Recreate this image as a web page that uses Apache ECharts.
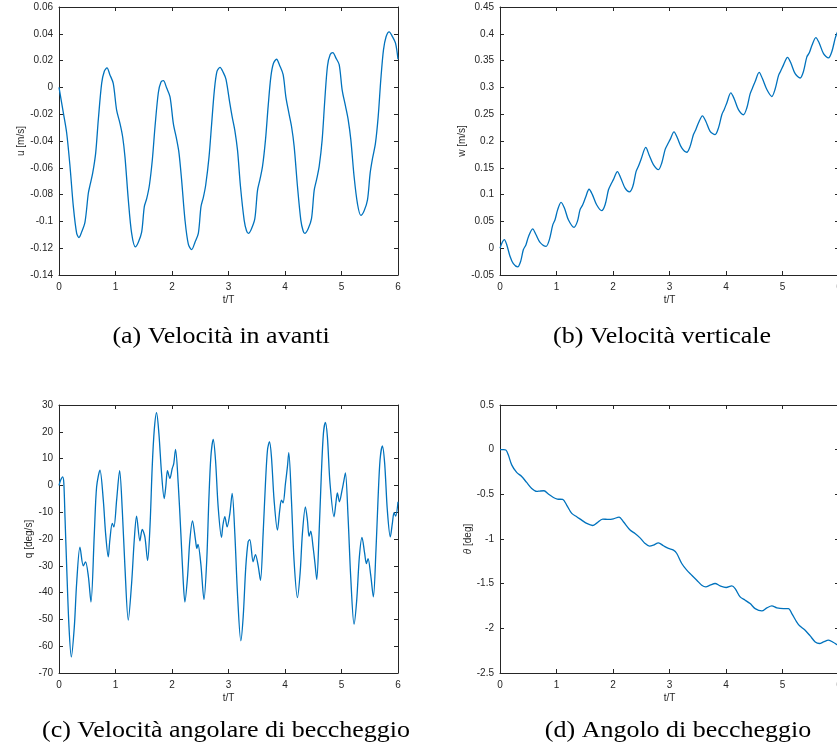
<!DOCTYPE html>
<html><head><meta charset="utf-8">
<script src="https://cdn.jsdelivr.net/npm/echarts@6/dist/echarts.min.js"></script>
<style>html,body{margin:0;padding:0;background:#fff;}#c{width:837px;height:753px;}</style>
</head><body><div id="c"></div>
<script>
// (a) forward velocity u [m/s] vs t/T
const uData = [[0,0],[0.077,-0.019],[0.136,-0.034],[0.195,-0.059],[0.254,-0.089],[0.313,-0.109],[0.354,-0.112],[0.4,-0.108],[0.46,-0.1005],[0.519,-0.079],[0.549,-0.073],[0.596,-0.064],[0.649,-0.049],[0.696,-0.024],[0.755,0.003],[0.802,0.012],[0.85,0.0145],[0.9,0.0095],[0.96,0.003],[1.02,-0.017],[1.08,-0.027],[1.127,-0.037],[1.168,-0.052],[1.227,-0.084],[1.286,-0.109],[1.351,-0.119],[1.404,-0.1155],[1.463,-0.108],[1.51,-0.089],[1.552,-0.083],[1.6,-0.073],[1.652,-0.054],[1.7,-0.029],[1.758,-0.004],[1.805,0.004],[1.847,0.005],[1.906,-0.0005],[1.965,-0.007],[2.024,-0.027],[2.083,-0.039],[2.124,-0.049],[2.17,-0.069],[2.23,-0.099],[2.289,-0.117],[2.348,-0.121],[2.407,-0.1155],[2.466,-0.109],[2.513,-0.089],[2.555,-0.082],[2.596,-0.073],[2.655,-0.052],[2.702,-0.027],[2.75,-0.002],[2.796,0.012],[2.85,0.015],[2.909,0.011],[2.956,0.006],[3.024,-0.012],[3.065,-0.022],[3.112,-0.032],[3.16,-0.047],[3.212,-0.074],[3.277,-0.099],[3.319,-0.107],[3.354,-0.109],[3.407,-0.1055],[3.466,-0.098],[3.513,-0.077],[3.555,-0.069],[3.602,-0.059],[3.655,-0.039],[3.702,-0.014],[3.75,0.008],[3.796,0.018],[3.85,0.021],[3.909,0.016],[3.967,0.0095],[4.015,-0.007],[4.068,-0.019],[4.115,-0.029],[4.162,-0.044],[4.221,-0.074],[4.28,-0.099],[4.32,-0.107],[4.35,-0.109],[4.41,-0.1055],[4.469,-0.098],[4.516,-0.077],[4.558,-0.069],[4.605,-0.059],[4.658,-0.039],[4.705,-0.009],[4.752,0.016],[4.8,0.0245],[4.847,0.026],[4.9,0.022],[4.959,0.017],[5.012,-0.002],[5.071,-0.014],[5.118,-0.024],[5.165,-0.039],[5.224,-0.067],[5.283,-0.087],[5.342,-0.0955],[5.401,-0.092],[5.46,-0.084],[5.507,-0.064],[5.549,-0.053],[5.6,-0.042],[5.649,-0.022],[5.696,0.006],[5.743,0.028],[5.79,0.038],[5.844,0.0415],[5.9,0.038],[5.956,0.033],[6.0,0.021]];

// (b) vertical velocity w [m/s]
const wData = [[0,0],[0.04,0.011],[0.077,0.016],[0.118,0.007],[0.177,-0.015],[0.236,-0.029],[0.313,-0.035],[0.366,-0.0245],[0.413,-0.003],[0.46,0.0066],[0.502,0.021],[0.578,0.036],[0.638,0.025],[0.708,0.011],[0.815,0.0035],[0.874,0.016],[0.933,0.043],[0.974,0.053],[1.021,0.072],[1.08,0.0855],[1.14,0.075],[1.21,0.053],[1.31,0.039],[1.37,0.05],[1.417,0.072],[1.464,0.081],[1.517,0.0955],[1.576,0.11],[1.635,0.1],[1.71,0.081],[1.8,0.07],[1.86,0.081],[1.92,0.109],[1.96,0.1185],[2.007,0.128],[2.078,0.143],[2.137,0.131],[2.214,0.112],[2.29,0.105],[2.35,0.115],[2.408,0.143],[2.45,0.153],[2.497,0.166],[2.58,0.188],[2.639,0.174],[2.715,0.156],[2.804,0.1465],[2.863,0.159],[2.922,0.184],[2.963,0.193],[3.01,0.2025],[3.08,0.217],[3.14,0.2055],[3.217,0.187],[3.306,0.179],[3.365,0.19],[3.424,0.212],[3.465,0.221],[3.512,0.2336],[3.583,0.247],[3.642,0.237],[3.719,0.218],[3.807,0.212],[3.867,0.2245],[3.926,0.249],[3.967,0.2585],[4.014,0.271],[4.085,0.2896],[4.144,0.279],[4.22,0.2585],[4.309,0.249],[4.368,0.2615],[4.427,0.288],[4.469,0.299],[4.516,0.311],[4.587,0.328],[4.646,0.316],[4.723,0.296],[4.811,0.283],[4.87,0.297],[4.929,0.322],[4.97,0.331],[5.018,0.342],[5.089,0.356],[5.148,0.3455],[5.224,0.3256],[5.313,0.3175],[5.372,0.33],[5.431,0.357],[5.472,0.364],[5.52,0.378],[5.59,0.393],[5.649,0.383],[5.726,0.363],[5.815,0.355],[5.874,0.367],[5.933,0.392],[5.96,0.4],[6.0,0.41]];

// (c) pitch rate q [deg/s]
const qData = [[0,0],[0.03,2.0],[0.065,3.2],[0.085,1.0],[0.106,-11.7],[0.136,-30.4],[0.177,-52.8],[0.218,-64],[0.271,-52.8],[0.312,-36.6],[0.371,-23],[0.43,-30],[0.47,-28.5],[0.52,-34],[0.566,-43.5],[0.625,-18],[0.666,-0.5],[0.725,5.7],[0.784,-5.5],[0.825,-18],[0.872,-26.7],[0.9,-20.4],[0.943,-14.2],[0.972,-15.5],[1.02,-5.5],[1.073,5.5],[1.12,-9.2],[1.167,-30.4],[1.226,-50.3],[1.285,-36.6],[1.332,-20.4],[1.373,-11.5],[1.432,-20.7],[1.473,-16.4],[1.52,-19.2],[1.568,-28],[1.61,-15.5],[1.65,7],[1.686,20.7],[1.727,27.1],[1.768,19.4],[1.815,4.5],[1.862,-4.9],[1.89,-0.5],[1.92,5.5],[1.962,2.6],[2.004,6.3],[2.03,8],[2.063,13.4],[2.11,0.7],[2.157,-18],[2.198,-35.4],[2.228,-43.5],[2.275,-34.1],[2.316,-20.4],[2.363,-13.2],[2.416,-20.4],[2.44,-23.5],[2.46,-22],[2.51,-29.2],[2.566,-42.6],[2.615,-27.9],[2.652,-5.5],[2.688,10.7],[2.73,17.2],[2.77,9.5],[2.817,-8],[2.876,-19.4],[2.9,-15],[2.935,-11.7],[2.976,-15.5],[3.024,-10.5],[3.065,-3],[3.112,-18],[3.159,-40.4],[3.218,-58],[3.26,-49],[3.306,-30.4],[3.348,-21],[3.377,-20.2],[3.436,-28.5],[3.477,-25.8],[3.524,-29.8],[3.566,-35.4],[3.613,-18],[3.654,0.7],[3.69,13.2],[3.725,16.3],[3.76,10.7],[3.807,-5.5],[3.866,-16.7],[3.907,-9.2],[3.937,-5.5],[3.966,-6.5],[4.008,0.7],[4.043,7],[4.067,12.2],[4.114,-5.5],[4.16,-27.9],[4.22,-41.9],[4.267,-32.9],[4.308,-18],[4.361,-8],[4.397,-13],[4.426,-19],[4.456,-17.1],[4.497,-23],[4.53,-29],[4.562,-35.1],[4.603,-18],[4.644,4.5],[4.68,19.4],[4.715,23.5],[4.75,18.2],[4.797,0.7],[4.868,-11.7],[4.9,-6.7],[4.927,-2.8],[4.963,-6.1],[5.01,-1.8],[5.04,1.5],[5.069,4.7],[5.116,-11.7],[5.163,-34.1],[5.222,-51.8],[5.269,-42.9],[5.316,-26.7],[5.363,-19.4],[5.41,-25.4],[5.44,-29.2],[5.47,-27.3],[5.517,-33.5],[5.564,-41.6],[5.61,-24.2],[5.646,-5.5],[5.682,9.5],[5.723,14.7],[5.764,8.2],[5.811,-9.2],[5.864,-19.2],[5.9,-14.2],[5.93,-10.2],[5.959,-11.5],[6.0,-6.1]];

// (d) pitch angle theta [deg]
const thetaData = [[0,0],[0.06,0],[0.106,-0.005],[0.148,-0.06],[0.207,-0.17],[0.295,-0.255],[0.384,-0.30],[0.472,-0.367],[0.561,-0.434],[0.65,-0.467],[0.708,-0.463],[0.779,-0.46],[0.856,-0.497],[0.945,-0.535],[1.015,-0.553],[1.11,-0.557],[1.18,-0.62],[1.27,-0.714],[1.358,-0.751],[1.446,-0.789],[1.535,-0.826],[1.641,-0.849],[1.712,-0.822],[1.818,-0.777],[1.918,-0.781],[2.007,-0.774],[2.107,-0.755],[2.184,-0.807],[2.302,-0.90],[2.39,-0.938],[2.479,-0.987],[2.568,-1.05],[2.645,-1.08],[2.715,-1.069],[2.804,-1.043],[2.893,-1.076],[2.981,-1.106],[3.07,-1.125],[3.129,-1.162],[3.217,-1.274],[3.306,-1.349],[3.394,-1.405],[3.483,-1.461],[3.571,-1.517],[3.642,-1.536],[3.719,-1.517],[3.807,-1.498],[3.896,-1.525],[4.002,-1.543],[4.103,-1.525],[4.162,-1.555],[4.25,-1.648],[4.339,-1.685],[4.427,-1.723],[4.516,-1.779],[4.634,-1.805],[4.723,-1.771],[4.811,-1.749],[4.9,-1.771],[5.018,-1.779],[5.106,-1.779],[5.165,-1.835],[5.283,-1.958],[5.401,-2.021],[5.49,-2.085],[5.579,-2.152],[5.655,-2.17],[5.726,-2.152],[5.815,-2.133],[5.904,-2.159],[5.963,-2.182],[6.0,-2.19]];

// axis ranges [min, max, step]
const xRange = [0, 6, 1];
const uRange = [-0.14, 0.06, 0.02];
const wRange = [-0.05, 0.45, 0.05];
const qRange = [-70, 30, 10];
const thetaRange = [-2.5, 0.5, 0.5];

const xName = 't/T';
const yNames = ['u [m/s]', 'w [m/s]', 'q [deg/s]', '{i|θ} [deg]'];
const captions = ['(a) Velocità in avanti', '(b) Velocità verticale', '(c) Velocità angolare di beccheggio', '(d) Angolo di beccheggio'];

const panels = [
  {data: uData, range: uRange, left: 59, top: 7, gap: 33, capX: 221, capY: 337},
  {data: wData, range: wRange, left: 500, top: 7, gap: 32, capX: 662, capY: 337},
  {data: qData, range: qRange, left: 59, top: 405, gap: 23, capX: 226, capY: 731},
  {data: thetaData, range: thetaRange, left: 500, top: 405, gap: 25, capX: 678, capY: 731}
];

const AX = '#262626';
const FONT = 'Liberation Sans';
const grid = [], xAxis = [], yAxis = [], series = [], graphic = [];

panels.forEach((p, i) => {
  grid.push({left: p.left, top: p.top, width: 339, height: 268, containLabel: false, outerBoundsMode: 'none'});
  const common = {
    gridIndex: i, type: 'value', splitLine: {show: false},
    axisLine: {show: true, onZero: false, lineStyle: {color: AX, width: 1}},
    axisTick: {show: true, inside: true, length: 4, lineStyle: {color: AX, width: 1}}
  };
  xAxis.push(Object.assign({}, common, {
    position: 'bottom', min: xRange[0], max: xRange[1], interval: xRange[2],
    axisLabel: {color: AX, fontSize: 10, fontFamily: FONT, margin: 7},
    name: xName, nameLocation: 'middle', nameGap: 20,
    nameTextStyle: {color: AX, fontSize: 10, fontFamily: FONT}
  }));
  xAxis.push(Object.assign({}, common, {
    position: 'top', min: xRange[0], max: xRange[1], interval: xRange[2],
    axisLabel: {show: false}
  }));
  yAxis.push(Object.assign({}, common, {
    position: 'left', min: p.range[0], max: p.range[1], interval: p.range[2],
    axisLabel: {color: AX, fontSize: 10, fontFamily: FONT, margin: 6},
    name: yNames[i], nameLocation: 'middle', nameGap: p.gap, nameRotate: 90,
    nameTextStyle: {color: AX, fontSize: 10, fontFamily: FONT,
      rich: {i: {fontStyle: 'italic', fontSize: 10, fontFamily: FONT, color: AX}}}
  }));
  yAxis.push(Object.assign({}, common, {
    position: 'right', min: p.range[0], max: p.range[1], interval: p.range[2],
    axisLabel: {show: false}
  }));
  series.push({
    type: 'line', xAxisIndex: 2 * i, yAxisIndex: 2 * i, data: p.data,
    showSymbol: false, smooth: 0.3, clip: true,
    lineStyle: {color: '#0072BD', width: 1.3}
  });
  graphic.push({
    type: 'text', x: p.capX, y: p.capY, scaleX: 1.13, silent: true,
    style: {text: captions[i], font: '23px "Liberation Serif"', fill: '#000',
      textAlign: 'center', textVerticalAlign: 'middle', verticalAlign: 'middle'}
  });
});

const chart = echarts.init(document.getElementById('c'), null, {renderer: 'canvas'});
chart.setOption({animation: false, backgroundColor: '#fff', grid, xAxis, yAxis, series, graphic});
</script></body></html>
